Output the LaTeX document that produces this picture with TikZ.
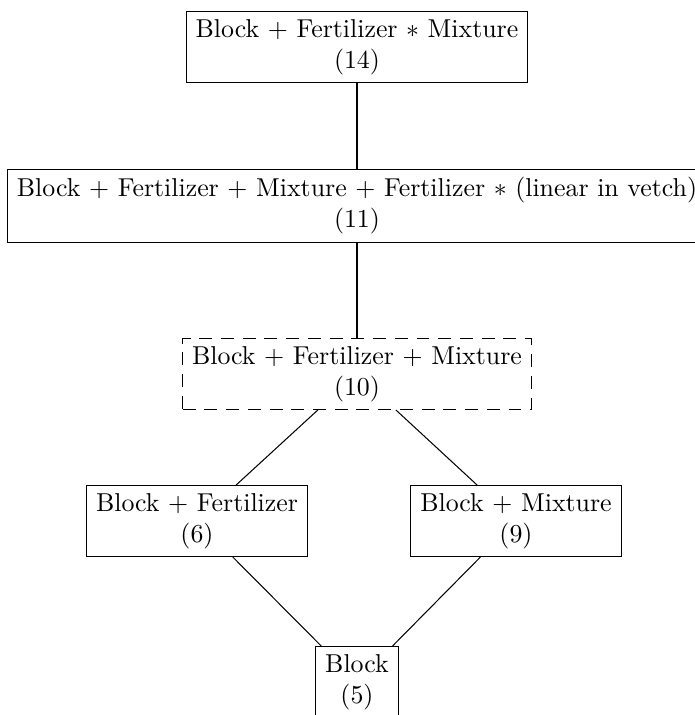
\documentclass[tikz,border=0pt]{standalone}
\begin{document}
\begin{tikzpicture}[x=0.3868pt,y=-0.3868pt,
  box/.style={draw,align=center,inner xsep=3.6pt,inner ysep=3pt},
  dbox/.style={box,dash pattern=on 5pt off 3.4pt},
  link/.style={draw}]
\useasboundingbox (0,0) rectangle (695,715);
\node[box] (n14) at (357,47) {Block $+$ Fertilizer $*$ Mixture\\(14)};
\node[box] (n11) at (357,206) {Block $+$ Fertilizer $+$ Mixture $+$ Fertilizer $*$ (linear in vetch)\\(11)};
\node[dbox] (n10) at (357,374) {Block $+$ Fertilizer $+$ Mixture\\(10)};
\node[box] (n6) at (197,521) {Block $+$ Fertilizer\\(6)};
\node[box] (n9) at (516,521) {Block $+$ Mixture\\(9)};
\node[box] (n5) at (357,682) {Block\\(5)};
\draw[link] (n14) -- (n11);
\draw[link] (n11) -- (n10);
\draw[link] (n10) -- (n6);
\draw[link] (n10) -- (n9);
\draw[link] (n6) -- (n5);
\draw[link] (n9) -- (n5);
\end{tikzpicture}
\end{document}
